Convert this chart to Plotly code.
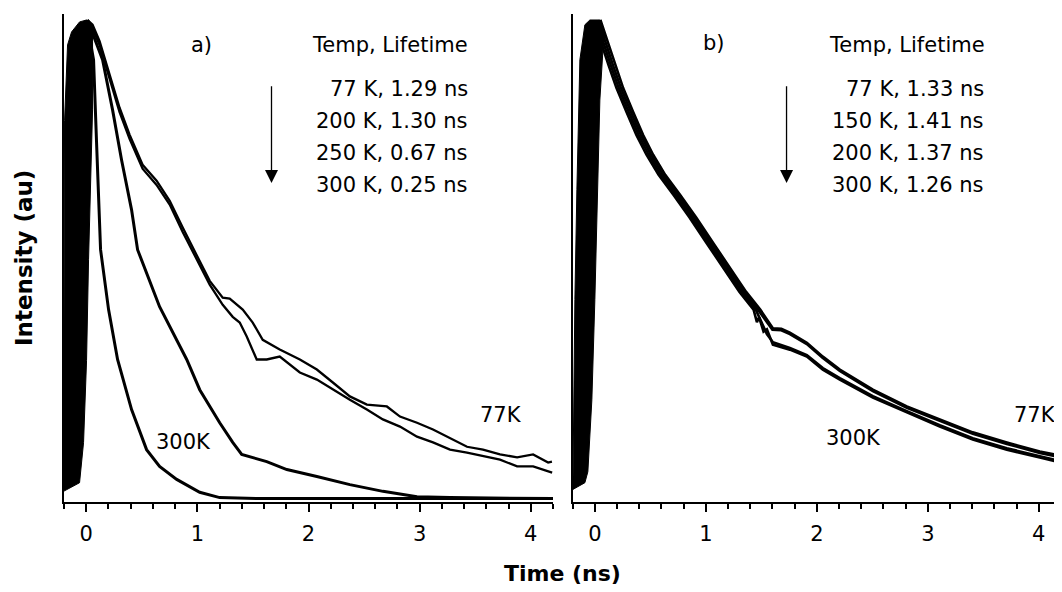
import plotly.graph_objects as go

# ---------------- data (time in ns, normalised intensity) ----------------
# Panel a) rising edge envelope (noisy rise of all traces, drawn as filled region)
a_rise_t = [-0.204, -0.195, -0.168, -0.132, -0.06, 0.003, 0.057, 0.057, 0.021, 0.003, -0.024, -0.06, -0.204]
a_rise_i = [0.017, 0.79, 0.948, 0.975, 0.996, 1.0, 0.99, 0.8125, 0.5, 0.29, 0.119, 0.035, 0.017]

a77_t = [0.012, 0.057, 0.120, 0.210, 0.300, 0.390, 0.507, 0.633, 0.751, 0.868, 0.994, 1.111, 1.228, 1.291,
         1.408, 1.498, 1.588, 1.741, 1.922, 2.075, 2.219, 2.372, 2.525, 2.705, 2.823, 2.976, 3.120, 3.300,
         3.426, 3.570, 3.723, 3.877, 4.021, 4.156, 4.19]
a77_i = [1.0, 0.990, 0.956, 0.886, 0.817, 0.761, 0.698, 0.665, 0.623, 0.567, 0.511, 0.456, 0.421, 0.419,
         0.396, 0.369, 0.333, 0.313, 0.292, 0.271, 0.244, 0.215, 0.198, 0.194, 0.173, 0.160, 0.146, 0.125,
         0.110, 0.104, 0.094, 0.088, 0.094, 0.077, 0.079]

a200_t = [0.012, 0.057, 0.120, 0.210, 0.300, 0.390, 0.507, 0.633, 0.751, 0.868, 0.994, 1.111, 1.228, 1.318,
          1.381, 1.444, 1.534, 1.624, 1.741, 1.922, 2.075, 2.219, 2.372, 2.525, 2.669, 2.823, 2.976, 3.120,
          3.273, 3.426, 3.570, 3.723, 3.877, 4.021, 4.192]
a200_i = [1.0, 0.982, 0.948, 0.877, 0.808, 0.752, 0.690, 0.656, 0.615, 0.558, 0.502, 0.448, 0.406, 0.381,
          0.369, 0.340, 0.292, 0.292, 0.298, 0.265, 0.250, 0.229, 0.208, 0.1875, 0.167, 0.152, 0.131, 0.119,
          0.104, 0.098, 0.090, 0.083, 0.069, 0.069, 0.056]

a250_t = [0.012, 0.084, 0.147, 0.237, 0.318, 0.408, 0.462, 0.660, 0.904, 1.021, 1.201, 1.318, 1.399, 1.624,
          1.805, 2.075, 2.372, 2.670, 2.976, 3.273, 4.2]
a250_i = [1.0, 0.958, 0.917, 0.8125, 0.708, 0.604, 0.521, 0.402, 0.292, 0.229, 0.160, 0.119, 0.094, 0.079,
          0.0625, 0.048, 0.031, 0.017, 0.006, 0.004, 0.002]

a300_t = [0.003, 0.066, 0.093, 0.129, 0.201, 0.282, 0.408, 0.543, 0.660, 0.814, 1.021, 1.201, 1.562, 4.2]
a300_i = [1.0, 0.917, 0.744, 0.521, 0.396, 0.292, 0.1875, 0.104, 0.069, 0.042, 0.015, 0.004, 0.002, 0.002]

# Panel b) rising edge envelope
b_rise_t = [-0.198, -0.180, -0.162, -0.135, -0.090, -0.045, 0.045, 0.081, 0.045, 0.018, 0.0, -0.027, -0.063, -0.090, -0.198]
b_rise_i = [0.021, 0.417, 0.646, 0.917, 0.990, 1.0, 1.0, 0.969, 0.833, 0.542, 0.417, 0.208, 0.058, 0.035, 0.021]

b77_t = [0.05, 0.11, 0.183, 0.255, 0.345, 0.435, 0.525, 0.634, 0.769, 0.913, 1.066, 1.219, 1.363, 1.49,
         1.604, 1.68, 1.757, 1.910, 2.054, 2.207, 2.505, 2.811, 3.108, 3.405, 3.712, 4.009, 4.2]
b77_i = [1.0, 0.958, 0.906, 0.858, 0.808, 0.760, 0.719, 0.677, 0.635, 0.588, 0.535, 0.483, 0.433, 0.396,
         0.357, 0.356, 0.348, 0.327, 0.298, 0.271, 0.229, 0.194, 0.167, 0.140, 0.119, 0.100, 0.091]

b150_t = [0.047, 0.09, 0.163, 0.235, 0.325, 0.415, 0.505, 0.614, 0.749, 0.893, 1.046, 1.199, 1.343, 1.47,
          1.60, 1.68, 1.757, 1.910, 2.054, 2.207, 2.505, 2.811, 3.108, 3.405, 3.712, 4.009, 4.2]
b150_i = [1.0, 0.958, 0.906, 0.858, 0.808, 0.760, 0.719, 0.677, 0.635, 0.588, 0.535, 0.483, 0.433, 0.396,
          0.354, 0.353, 0.345, 0.324, 0.295, 0.268, 0.226, 0.191, 0.164, 0.137, 0.116, 0.097, 0.088]

b200_t = [0.043, 0.07, 0.143, 0.215, 0.305, 0.395, 0.485, 0.594, 0.729, 0.873, 1.026, 1.179, 1.323, 1.45,
          1.50, 1.55, 1.604, 1.757, 1.910, 2.054, 2.207, 2.505, 2.811, 3.108, 3.405, 3.712, 4.009, 4.2]
b200_i = [1.0, 0.958, 0.906, 0.858, 0.808, 0.760, 0.719, 0.677, 0.635, 0.588, 0.535, 0.483, 0.433, 0.396,
          0.372, 0.345, 0.328, 0.316, 0.301, 0.274, 0.253, 0.2155, 0.184, 0.155, 0.128, 0.107, 0.090, 0.080]

b300_t = [0.03, 0.05, 0.123, 0.195, 0.285, 0.375, 0.465, 0.574, 0.709, 0.853, 1.006, 1.159, 1.303, 1.43,
          1.46, 1.48, 1.52, 1.55, 1.604, 1.757, 1.910, 2.054, 2.207, 2.505, 2.811, 3.108, 3.405, 3.712, 4.009, 4.2]
b300_i = [1.0, 0.958, 0.906, 0.858, 0.808, 0.760, 0.719, 0.677, 0.635, 0.588, 0.535, 0.483, 0.433, 0.396,
          0.37, 0.38, 0.35, 0.355, 0.323, 0.3125, 0.298, 0.271, 0.25, 0.2125, 0.181, 0.152, 0.125, 0.104, 0.0875, 0.077]

legend_a = ["77 K, 1.29 ns", "200 K, 1.30 ns", "250 K, 0.67 ns", "300 K, 0.25 ns"]
legend_b = ["77 K, 1.33 ns", "150 K, 1.41 ns", "200 K, 1.37 ns", "300 K, 1.26 ns"]
legend_rows_i = [0.856, 0.790, 0.723, 0.656]

x_ticks = [0, 1, 2, 3, 4]

FONT = "DejaVu Sans"
BLACK = "#000000"

fig = go.Figure()

def add_rise(t, i, xa, ya):
    fig.add_trace(go.Scatter(x=t, y=i, mode="lines", fill="toself", fillcolor=BLACK,
                             line=dict(color=BLACK, width=1), xaxis=xa, yaxis=ya,
                             hoverinfo="skip", showlegend=False))

def add_curve(t, i, xa, ya, w, name):
    fig.add_trace(go.Scatter(x=t, y=i, mode="lines", line=dict(color=BLACK, width=w),
                             xaxis=xa, yaxis=ya, name=name, showlegend=False))

add_rise(a_rise_t, a_rise_i, "x", "y")
add_curve(a77_t, a77_i, "x", "y", 2.3, "77 K")
add_curve(a200_t, a200_i, "x", "y", 2.3, "200 K")
add_curve(a250_t, a250_i, "x", "y", 3, "250 K")
add_curve(a300_t, a300_i, "x", "y", 3, "300 K")

add_rise(b_rise_t, b_rise_i, "x2", "y2")
add_curve(b77_t, b77_i, "x2", "y2", 2.6, "77 K")
add_curve(b150_t, b150_i, "x2", "y2", 2.6, "150 K")
add_curve(b200_t, b200_i, "x2", "y2", 2.6, "200 K")
add_curve(b300_t, b300_i, "x2", "y2", 2.6, "300 K")

xcommon = dict(range=[-0.2, 4.2], showline=True, linecolor=BLACK, linewidth=1.8,
               ticks="outside", ticklen=8, tickwidth=1.5, tickcolor=BLACK,
               tickmode="array", tickvals=x_ticks, ticktext=[str(v) for v in x_ticks],
               minor=dict(ticks="outside", ticklen=5, tickwidth=1.5, tickcolor=BLACK,
                          tickmode="linear", tick0=0, dtick=0.2),
               showgrid=False, zeroline=False, ticklabelstandoff=4,
               tickfont=dict(family=FONT, size=21, color=BLACK))
ycommon = dict(range=[-0.0052, 1.0125], showline=True, linecolor=BLACK, linewidth=1.8,
               ticks="", showticklabels=False, showgrid=False, zeroline=False)

# page body has an 8 px margin: figure is sized so it ends at the window edge
fig.update_layout(
    width=1054, height=584,
    margin=dict(l=56, r=1, t=6, b=90),
    paper_bgcolor="white", plot_bgcolor="white",
    xaxis=dict(domain=[0, 0.4905], anchor="y", **xcommon),
    yaxis=dict(domain=[0, 1], anchor="x", **ycommon),
    xaxis2=dict(domain=[0.5102, 1.0], anchor="y2", **xcommon),
    yaxis2=dict(domain=[0, 1], anchor="x2", **ycommon),
    showlegend=False,
)

ann = []
def text(xr, yr, x, y, s, anchor="center", size=21):
    ann.append(dict(xref=xr, yref=yr, x=x, y=y, text=s, showarrow=False,
                    xanchor=anchor, yanchor="middle",
                    font=dict(family=FONT, size=size, color=BLACK)))

# panel a
text("x", "y", 1.039, 0.948, "a)")
text("x", "y", 3.453, 0.948, "Temp, Lifetime", "right")
for s, yy in zip(legend_a, legend_rows_i):
    text("x", "y", 3.453, yy, s, "right")
text("x", "y", 3.733, 0.177, "77K")
text("x", "y", 0.872, 0.119, "300K")
# panel b
text("x2", "y2", 1.072, 0.952, "b)")
text("x2", "y2", 3.532, 0.948, "Temp, Lifetime", "right")
for s, yy in zip(legend_b, legend_rows_i):
    text("x2", "y2", 3.523, yy, s, "right")
text("x2", "y2", 3.964, 0.177, "77K")
text("x2", "y2", 2.333, 0.129, "300K")

# arrows
for xr, yr, xv in [("x", "y", 1.667), ("x2", "y2", 1.727)]:
    ann.append(dict(xref=xr, yref=yr, axref=xr, ayref=yr, x=xv, y=0.660, ax=xv, ay=0.865,
                    text="", showarrow=True, arrowhead=2, arrowsize=2, arrowwidth=1.3,
                    arrowcolor=BLACK, standoff=0, startstandoff=0))

# axis titles
ann.append(dict(xref="paper", yref="paper", x=0.5, y=-0.1475, text="<b>Time (ns)</b>",
                showarrow=False, xanchor="center", yanchor="middle",
                font=dict(family=FONT, size=22, color=BLACK)))
ann.append(dict(xref="paper", yref="paper", x=-0.0401, y=0.5, text="<b>Intensity (au)</b>",
                showarrow=False, xanchor="center", yanchor="middle", textangle=-90,
                font=dict(family=FONT, size=23, color=BLACK)))

fig.update_layout(annotations=ann)
fig.write_html("out.html")
